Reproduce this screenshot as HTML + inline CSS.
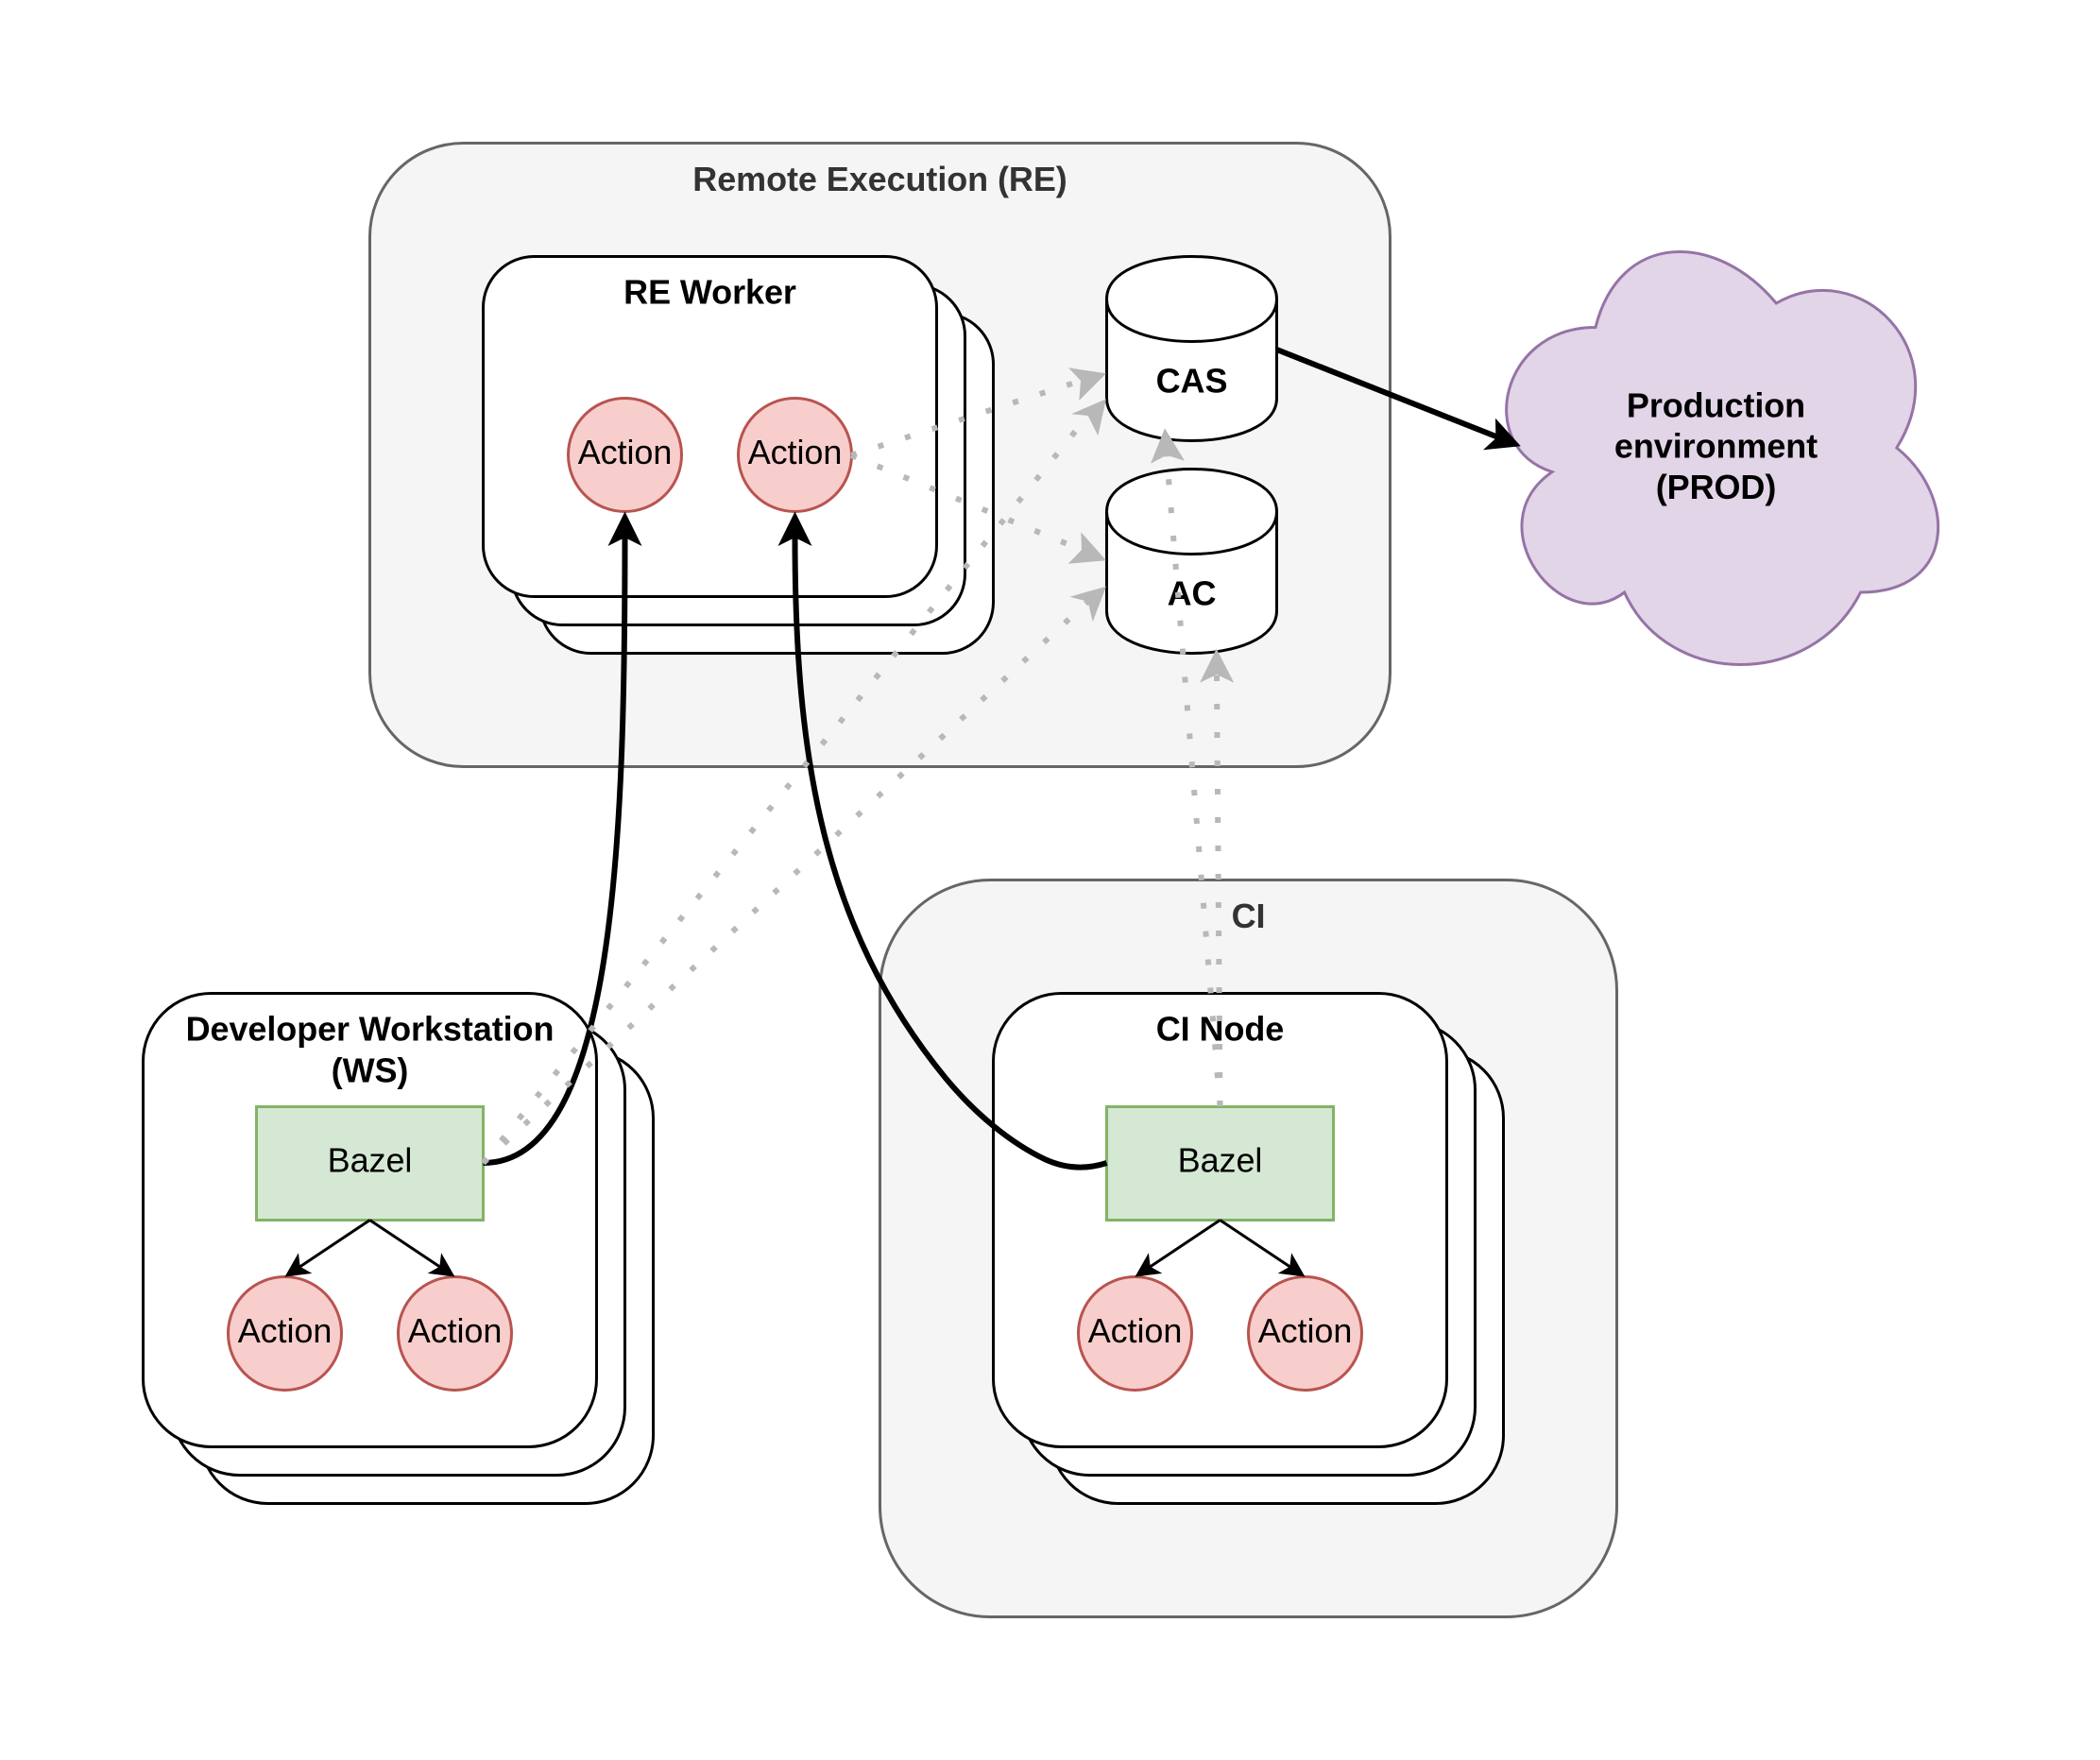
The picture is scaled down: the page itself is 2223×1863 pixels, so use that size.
<!DOCTYPE html>
<html><head><meta charset="utf-8"><style>
html,body{margin:0;padding:0;background:#fff}
svg{display:block}
text{font-family:"Liberation Sans",Helvetica,Arial,sans-serif;font-size:36px;text-anchor:middle;fill:#000;letter-spacing:-0.08px}
.b{font-weight:bold}
.g{font-weight:bold;fill:#333}
.box{fill:#fff;stroke:#000;stroke-width:3}
.grp{fill:#f5f5f5;stroke:#666;stroke-width:3}
.act{fill:#f8cecc;stroke:#b85450;stroke-width:3}
.baz{fill:#d5e8d4;stroke:#82b366;stroke-width:3}
.dot{fill:none;stroke:#b8b8b8;stroke-width:6;stroke-dasharray:6 24}
.k{fill:none;stroke:#000;stroke-width:6}
.k1{fill:none;stroke:#000;stroke-width:3}
</style></head><body>
<svg xmlns="http://www.w3.org/2000/svg" width="2223" height="1863" viewBox="0 0 2223 1863">
<rect width="2223" height="1863" fill="#fff"/>
<g transform="translate(0,0.5)">
<rect class="grp" x="391.5" y="151" width="1080" height="660" rx="99" ry="99"/>
<rect class="grp" x="931.5" y="931" width="780" height="780" rx="117" ry="117"/>
<text class="g" x="931.5" y="201.5">Remote Execution (RE)</text>
<text class="g" x="1321.5" y="981.5">CI</text>

<rect class="box" x="571.5" y="331" width="480" height="360" rx="54" ry="54"/>
<rect class="box" x="541.5" y="301" width="480" height="360" rx="54" ry="54"/>
<rect class="box" x="511.5" y="271" width="480" height="360" rx="54" ry="54"/>
<text class="b" x="751.5" y="321">RE Worker</text>
<circle class="act" cx="661.5" cy="481" r="60"/>
<circle class="act" cx="841.5" cy="481" r="60"/>
<text x="661.5" y="490.5">Action</text>
<text x="841.5" y="490.5">Action</text>

<path class="box" d="M1171.5,316 C1171.5,256 1351.5,256 1351.5,316 L1351.5,421 C1351.5,481 1171.5,481 1171.5,421 Z M1351.5,316 C1351.5,376 1171.5,376 1171.5,316"/>
<text class="b" x="1261.5" y="415">CAS</text>
<path class="box" d="M1171.5,541 C1171.5,481 1351.5,481 1351.5,541 L1351.5,646 C1351.5,706 1171.5,706 1171.5,646 Z M1351.5,541 C1351.5,601 1171.5,601 1171.5,541"/>
<text class="b" x="1261.5" y="640">AC</text>

<path fill="#e1d5e7" stroke="#9673a6" stroke-width="3" d="M1689,346 C1587,346 1561.5,473.5 1643.1,499 C1561.5,555.1 1653.3,677.5 1719.6,626.5 C1765.5,728.5 1918.5,728.5 1969.5,626.5 C2071.5,626.5 2071.5,524.5 2007.8,473.5 C2071.5,371.5 1969.5,269.5 1880.3,320.5 C1816.5,244 1714.5,244 1689,346 Z"/>
<text class="b" x="1816.5" y="441">Production</text>
<text class="b" x="1816.5" y="484.2">environment</text>
<text class="b" x="1816.5" y="527.4">(PROD)</text>

<rect class="box" x="211.5" y="1111" width="480" height="480" rx="72" ry="72"/>
<rect class="box" x="181.5" y="1081" width="480" height="480" rx="72" ry="72"/>
<rect class="box" x="151.5" y="1051" width="480" height="480" rx="72" ry="72"/>
<text class="b" x="391.5" y="1101">Developer Workstation</text>
<text class="b" x="391.5" y="1145">(WS)</text>
<rect class="baz" x="271.5" y="1171" width="240" height="120"/>
<text x="391.5" y="1240">Bazel</text>
<circle class="act" cx="301.5" cy="1411" r="60"/>
<circle class="act" cx="481.5" cy="1411" r="60"/>
<text x="301.5" y="1420.5">Action</text>
<text x="481.5" y="1420.5">Action</text>

<rect class="box" x="1111.5" y="1111" width="480" height="480" rx="72" ry="72"/>
<rect class="box" x="1081.5" y="1081" width="480" height="480" rx="72" ry="72"/>
<rect class="box" x="1051.5" y="1051" width="480" height="480" rx="72" ry="72"/>
<text class="b" x="1291.5" y="1101">CI Node</text>
<rect class="baz" x="1171.5" y="1171" width="240" height="120"/>
<text x="1291.5" y="1240">Bazel</text>
<circle class="act" cx="1201.5" cy="1411" r="60"/>
<circle class="act" cx="1381.5" cy="1411" r="60"/>
<text x="1201.5" y="1420.5">Action</text>
<text x="1381.5" y="1420.5">Action</text>

<!-- small arrows -->
<path class="k1" d="M391.5,1291 L317.7,1340.2 M391.5,1291 L465.3,1340.2 M1291.5,1291 L1217.7,1340.2 M1291.5,1291 L1365.3,1340.2"/>
<polygon points="301.5,1351 330.3,1347.4 317.7,1340.2 315.9,1325.8"/>
<polygon points="481.5,1351 452.7,1347.4 465.3,1340.2 467.1,1325.8"/>
<polygon points="1201.5,1351 1230.3,1347.4 1217.7,1340.2 1215.9,1325.8"/>
<polygon points="1381.5,1351 1352.7,1347.4 1365.3,1340.2 1367.1,1325.8"/>
</g>

<!-- thick black connectors -->
<path class="k" d="M511.5,1231 C652,1231 661.5,880 661.5,568"/>
<polygon points="661.5,541.5 679.5,578 661.5,569 643.5,578"/>
<path class="k" d="M1171.5,1231 C1150,1238 1128,1237 1106.7,1227.4 C1070,1210 1032,1179 1000,1140 C870.4,981 841.5,800 841.5,568"/>
<polygon points="841.5,541.5 859.5,578 841.5,569 823.5,578"/>
<path class="k" d="M1351.5,370 L1590,464.5"/>
<polygon points="1609.8,472.3 1583,442.7 1583.4,464 1570,476.3"/>

<!-- dotted grey connectors -->
<path class="dot" d="M901,482 L1144,403"/>
<path class="dot" d="M901,482 L1145,582"/>
<path class="dot" d="M511.5,1231 L1151.7,440"/>
<path class="dot" d="M511.5,1231 L1151.7,636.7"/>
<path class="dot" d="M1291.5,1171 L1235,482"/>
<path class="dot" d="M1291.5,1171 L1288,714"/>
<g fill="#b8b8b8">
<polygon points="1171,395.3 1131,389.3 1144,403 1142.3,424"/>
<polygon points="1171,422.3 1134,438.3 1151.7,440 1162.3,461.3"/>
<polygon points="1171,593.3 1144.3,563.3 1145,582 1130.7,596.7"/>
<polygon points="1171,620.7 1132.3,631.7 1151.7,636.7 1156.7,658.3"/>
<polygon points="1233,453.3 1218,490.7 1235,481.7 1254,487.7"/>
<polygon points="1287.7,686.7 1270,722.7 1288,714 1306.3,722.7"/>
</g>
</svg>
</body></html>
